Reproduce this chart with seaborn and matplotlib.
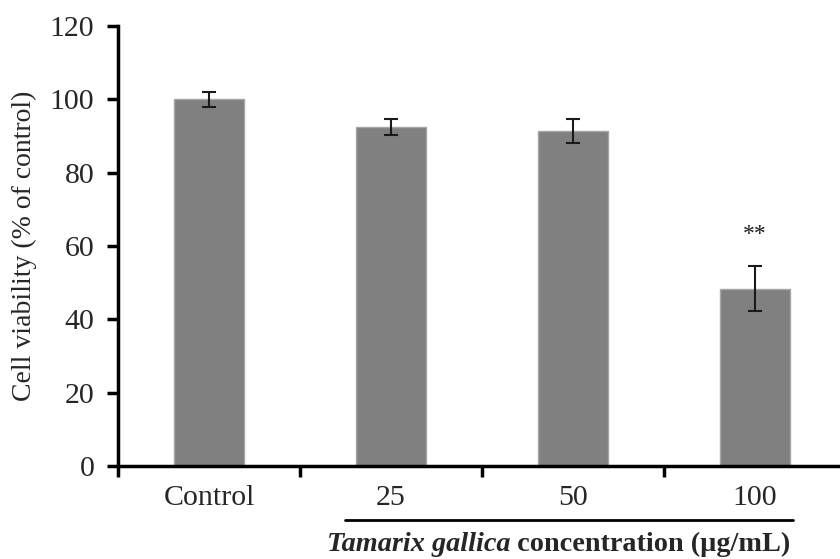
import matplotlib
matplotlib.use("Agg")
import matplotlib.pyplot as plt
import seaborn as sns
import pandas as pd
from matplotlib.lines import Line2D

categories = ["Control", "25", "50", "100"]
viability = [100.0, 92.4, 91.3, 48.4]
sd = [2.0, 2.2, 3.3, 6.1]
signif = ["", "", "", "**"]
yticks = [0, 20, 40, 60, 80, 100, 120]

sns.set_theme(style="white")
plt.rcParams["font.family"] = ["Liberation Serif", "DejaVu Serif"]

df = pd.DataFrame({"group": categories, "viability": viability})

fig = plt.figure(figsize=(8.4, 5.59), dpi=100)
W, H = 840, 559
x0, x1 = 118, 840
y0, y1 = 466, 26
ax = fig.add_axes([x0 / W, (H - y0) / H, (x1 - x0) / W, (y0 - y1) / H])

sns.barplot(data=df, x="group", y="viability", order=categories, color="#808080",
            saturation=1, width=0.39, edgecolor="#a6a6a6", linewidth=1.0,
            errorbar=None, ax=ax)
for p in ax.patches:
    p.set_facecolor("#808080")

ax.errorbar(range(len(categories)), viability, yerr=sd, fmt="none",
            ecolor="#1a1a1a", elinewidth=1.5, capsize=5, capthick=1.5)

for i, s in enumerate(signif):
    if s:
        ax.text(i, viability[i] + sd[i] + 7.0, s, ha="center", va="baseline",
                fontsize=17, color="#1a1a1a")

ax.set_xlim(-0.5, -0.5 + (x1 - x0) / 182)
ax.set_ylim(0, 120)
ax.set_yticks(yticks)
ax.set_yticklabels([str(v) for v in yticks], fontsize=21.5)

# category labels at centers without ticks; ticks at boundaries
ax.set_xticks([-0.5, 0.5, 1.5, 2.5])
ax.set_xticklabels([])
ax.set_xticks(range(len(categories)), minor=True)
ax.set_xticklabels(categories, minor=True, fontsize=21.5)
ax.tick_params(axis="x", which="major", direction="out", length=8, width=2.5,
               color="black", bottom=True)
ax.tick_params(axis="x", which="minor", length=0, pad=14)
ax.tick_params(axis="y", direction="out", length=8, width=2.5, color="black",
               left=True, pad=9, labelsize=21.5)

for side in ["top", "right"]:
    ax.spines[side].set_visible(False)
for side in ["left", "bottom"]:
    ax.spines[side].set_linewidth(2.5)
    ax.spines[side].set_color("black")

ax.set_xlabel("")
ax.set_ylabel("Cell viability (% of control)", fontsize=20, labelpad=9)

# underline spanning concentration groups
fig.add_artist(Line2D([345 / W, 793 / W], [(H - 520) / H, (H - 520) / H],
                      color="black", linewidth=2))

t1 = fig.text(327 / W, (H - 551) / H, "Tamarix gallica", fontsize=20.3,
              style="italic", weight="bold", ha="left", va="baseline")
fig.canvas.draw()
ax.annotate(" concentration (µg/mL)", xy=(1, 0), xycoords=t1,
            fontsize=20.3, weight="bold", ha="left", va="bottom")

fig.savefig("out.png", dpi=100)
